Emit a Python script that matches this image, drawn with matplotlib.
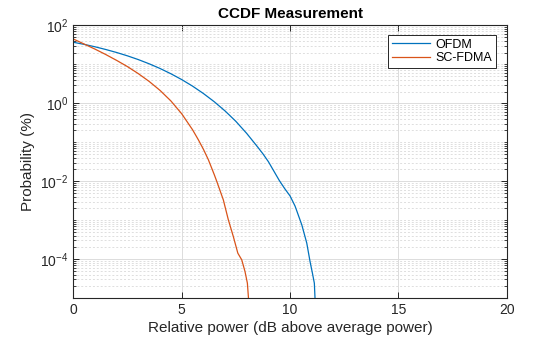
import numpy as np
import matplotlib
matplotlib.use("Agg")
import matplotlib.pyplot as plt
from matplotlib.ticker import FixedLocator, LogFormatterSciNotation, NullFormatter

plt.rcParams['font.family'] = ['Liberation Sans', 'DejaVu Sans']
plt.rcParams['mathtext.fontset'] = 'custom'
plt.rcParams['mathtext.rm'] = 'Liberation Sans'
plt.rcParams['mathtext.it'] = 'Liberation Sans:italic'
plt.rcParams['mathtext.bf'] = 'Liberation Sans:bold'

# OFDM: relative power (dB) and log10 of probability (%)
ofdm_db = [0.0, 0.5, 1.0, 1.5, 2.0, 2.5, 3.0, 3.5, 4.0, 4.5, 5.0, 5.5, 6.0, 6.5,
           7.0, 7.5, 8.0, 8.5, 8.75, 9.0, 9.25, 9.5, 9.75, 10.0, 10.23, 10.54, 10.77,
           10.92, 11.03, 11.12, 11.15]
ofdm_log = [1.566, 1.512, 1.450, 1.380, 1.303, 1.217, 1.121, 1.013, 0.893, 0.758,
            0.608, 0.440, 0.251, 0.040, -0.197, -0.465, -0.775, -1.12, -1.30,
            -1.50, -1.74, -1.98, -2.19, -2.38, -2.64, -3.12, -3.59, -4.06, -4.36,
            -4.62, -5.0]
ofdm_pct = [10 ** v for v in ofdm_log]

# SC-FDMA
scfdma_db = [0.0, 0.5, 1.0, 1.5, 2.0, 2.5, 3.0, 3.5, 4.0, 4.5, 5.0, 5.5, 5.77, 6.0,
             6.23, 6.5, 6.62, 6.92, 7.15, 7.38, 7.59, 7.77, 7.92, 8.03, 8.08]
scfdma_log = [1.65, 1.52, 1.39, 1.25, 1.10, 0.94, 0.76, 0.56, 0.33, 0.06, -0.27,
              -0.68, -0.94, -1.18, -1.45, -1.83, -2.01, -2.48, -2.99, -3.42, -3.85,
              -4.02, -4.32, -4.62, -5.0]
scfdma_pct = [10 ** v for v in scfdma_log]

fig = plt.figure(figsize=(5.6, 3.37), dpi=100)
ax = fig.add_axes([0.131, 0.1157, 0.774, 0.809])

ax.semilogy(ofdm_db, ofdm_pct, color='#0072BD', lw=0.9, label='OFDM')
ax.semilogy(scfdma_db, scfdma_pct, color='#D95319', lw=0.9, label='SC-FDMA')

ax.set_xlim(0, 20)
ax.set_ylim(1e-5, 1e2)
ax.set_xticks([0, 5, 10, 15, 20])
ax.yaxis.set_major_locator(FixedLocator([1e-4, 1e-2, 1e0, 1e2]))
ax.yaxis.set_major_formatter(LogFormatterSciNotation())
minors = []
for d in range(-5, 2):
    for k in range(1, 10):
        v = k * 10.0 ** d
        if v not in (1e-4, 1e-2, 1e0, 1e2) and 1e-5 <= v <= 1e2:
            minors.append(v)
ax.yaxis.set_minor_locator(FixedLocator(minors))
ax.yaxis.set_minor_formatter(NullFormatter())

ax.grid(which='major', color='#dcdcdc', lw=0.7, ls='-')
ax.grid(which='minor', axis='y', color='#dedede', lw=0.7, ls=(0, (2, 2)))
ax.set_axisbelow(True)

ax.tick_params(which='both', direction='in', top=True, right=True, labelsize=10,
               colors='#262626', labelcolor='#262626')
ax.tick_params(which='major', length=4, width=0.7)
ax.tick_params(which='minor', length=2, width=0.6)
for s in ax.spines.values():
    s.set_color('#262626')
    s.set_linewidth(0.8)

ax.set_title('CCDF Measurement', fontsize=11, fontweight='bold', pad=5)
ax.set_xlabel('Relative power (dB above average power)', fontsize=11, color='#262626', labelpad=3)
ax.set_ylabel('Probability (%)', fontsize=11, color='#262626', labelpad=4)

leg = ax.legend(loc='upper right', bbox_to_anchor=(0.975, 0.965), fontsize=9,
                frameon=True, fancybox=False, edgecolor='#262626', framealpha=1,
                handlelength=3.1, handletextpad=0.4, borderpad=0.3, labelspacing=0.1,
                borderaxespad=0)
leg.get_frame().set_linewidth(0.7)

fig.savefig('out.png', dpi=100)
